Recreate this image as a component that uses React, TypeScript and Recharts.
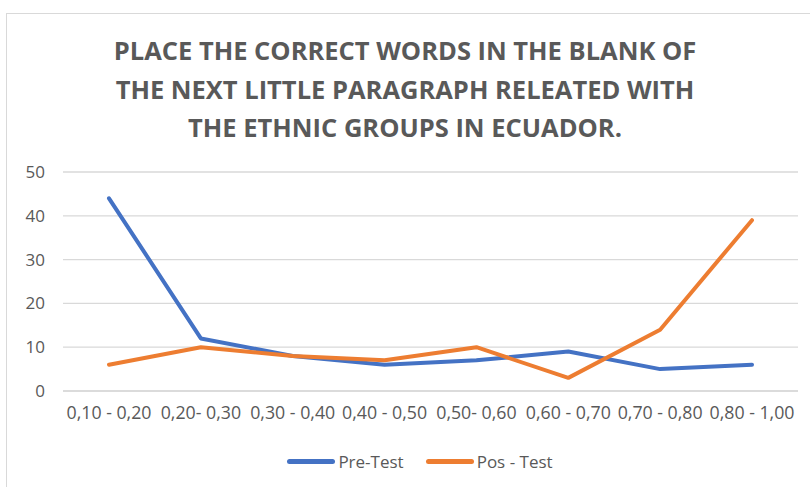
import React from 'react';
import { LineChart, Line, XAxis, YAxis, CartesianGrid, Legend } from 'recharts';

const categories = ['0,10 - 0,20', '0,20- 0,30', '0,30 - 0,40', '0,40 - 0,50', '0,50- 0,60', '0,60 - 0,70', '0,70 - 0,80', '0,80 - 1,00'];
const preTest = [44, 12, 8, 6, 7, 9, 5, 6];
const posTest = [6, 10, 8, 7, 10, 3, 14, 39];
const yTicks = [0, 10, 20, 30, 40, 50];
const titleLines = ['PLACE THE CORRECT WORDS IN THE BLANK OF', 'THE NEXT LITTLE PARAGRAPH RELEATED WITH', 'THE ETHNIC GROUPS IN ECUADOR.'];
const seriesNames = ['Pre-Test', 'Pos - Test'];
const seriesColors = ['#4472C4', '#ED7D31'];

const data = categories.map((c, i) => ({ name: c, pre: preTest[i], pos: posTest[i] }));

const FONT = '"Open Sans", "Noto Sans", sans-serif';

const XTick = (props: any) => {
  const { x, y, payload } = props;
  return (
    <g transform={`translate(${x},${y})`}>
      <text transform="scale(0.96,1)" x={0} y={0} dy={16} textAnchor="middle" fill="#595959" fontSize={18.5} fontFamily={FONT}>
        {payload.value}
      </text>
    </g>
  );
};

const LegendContent = () => (
  <div style={{ display: 'flex', justifyContent: 'center', alignItems: 'center', fontFamily: FONT, fontSize: 17, color: '#595959', paddingLeft: 30 }}>
    {seriesNames.map((n, i) => (
      <div key={n} style={{ display: 'flex', alignItems: 'center', marginRight: i === 0 ? 22 : 0 }}>
        <div style={{ width: 48, height: 5, background: seriesColors[i], borderRadius: 3, marginRight: 3 }} />
        <span>{n}</span>
      </div>
    ))}
  </div>
);

export default function App() {
  return (
    <div style={{ position: 'absolute', left: 0, top: 0, width: 810, height: 487, background: '#fff', overflow: 'hidden' }}>
      <div style={{ position: 'absolute', left: 6, top: 13, width: 820, height: 500, border: '1px solid #d9d9d9', boxSizing: 'border-box' }} />
      <div style={{ position: 'absolute', left: 0, top: 31, width: 810, textAlign: 'center', fontFamily: FONT, fontWeight: 700, fontSize: 25.5, lineHeight: '38.5px', color: '#595959' }}>
        {titleLines.map((t) => (<div key={t}>{t}</div>))}
      </div>
      <div style={{ position: 'absolute', left: 0, top: 0 }}>
        <LineChart width={810} height={487} data={data} margin={{ top: 172, right: 12, bottom: 42, left: 13 }}>
          <CartesianGrid vertical={false} stroke="#d9d9d9" strokeWidth={1.3} />
          <XAxis dataKey="name" axisLine={{ stroke: '#d9d9d9', strokeWidth: 1.3 }} tickLine={false} height={30} interval={0}
            padding={{ left: 46, right: 46 }} tick={<XTick />} tickMargin={6} />
          <YAxis domain={[0, 50]} ticks={yTicks} axisLine={false} tickLine={false} width={50}
            tick={{ fill: '#595959', fontSize: 17, fontFamily: FONT }} tickMargin={12} />
          <Legend verticalAlign="bottom" content={<LegendContent />} wrapperStyle={{ position: 'absolute', top: 450, left: 0, width: 810, height: 24 }} />
          <Line type="linear" dataKey="pre" name={seriesNames[0]} stroke={seriesColors[0]} strokeWidth={4} dot={false} isAnimationActive={false} strokeLinejoin="round" strokeLinecap="round" />
          <Line type="linear" dataKey="pos" name={seriesNames[1]} stroke={seriesColors[1]} strokeWidth={4} dot={false} isAnimationActive={false} strokeLinejoin="round" strokeLinecap="round" />
        </LineChart>
      </div>
    </div>
  );
}
